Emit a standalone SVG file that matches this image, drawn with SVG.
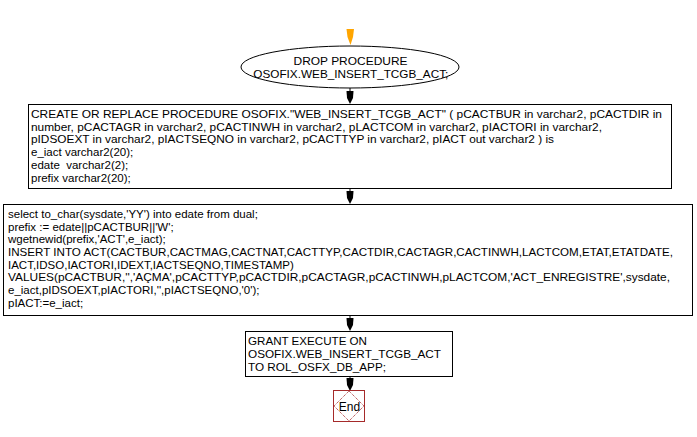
<svg xmlns="http://www.w3.org/2000/svg" width="697" height="437" viewBox="0 0 697 437">
<style>
text { font-family: "Liberation Sans", Arial, sans-serif; font-size: 11.5px; fill: #000; }
.box { fill: #fff; stroke: #000; stroke-width: 1; }
.mid { text-anchor: middle; }
.conn line { stroke: #000; stroke-width: 1; }
.head { fill: #000; }
</style>
<rect width="697" height="437" fill="#fff"/>
<g id="connectors" class="conn">
  <polygon points="346.5,29 354,29 353,37 350.5,45 347.5,37" fill="#ffa500"/>
  <line x1="350" y1="88" x2="350" y2="92"/>
  <polygon class="head" points="346.5,91 353.5,91 353,98 350,104 347,98"/>
  <line x1="350" y1="188" x2="350" y2="192"/>
  <polygon class="head" points="346.5,191 353.5,191 353,198 350,204 347,198"/>
  <line x1="350" y1="315" x2="350" y2="319"/>
  <polygon class="head" points="346.5,318 353.5,318 353,325 350,331 347,325"/>
  <line x1="350" y1="377" x2="350" y2="379"/>
  <polygon class="head" points="346.5,378 353.5,378 353,385 350,391 347,385"/>
</g>
<g id="drop">
  <ellipse cx="350" cy="67" rx="109" ry="21" class="box"/>
  <text x="350.5" y="65" class="mid" textLength="114" lengthAdjust="spacingAndGlyphs">DROP PROCEDURE</text>
  <text x="350.8" y="78" class="mid" textLength="195" lengthAdjust="spacingAndGlyphs">OSOFIX.WEB_INSERT_TCGB_ACT;</text>
</g>
<g id="create">
  <rect x="28.5" y="104.5" width="643" height="84" class="box"/>
  <text x="31" y="118" textLength="631" lengthAdjust="spacingAndGlyphs">CREATE OR REPLACE PROCEDURE OSOFIX."WEB_INSERT_TCGB_ACT" ( pCACTBUR in varchar2, pCACTDIR in</text>
  <text x="31" y="130.7" textLength="571" lengthAdjust="spacingAndGlyphs">number, pCACTAGR in varchar2, pCACTINWH in varchar2, pLACTCOM in varchar2, pIACTORI in varchar2,</text>
  <text x="31" y="143.4" textLength="523" lengthAdjust="spacingAndGlyphs">pIDSOEXT in varchar2, pIACTSEQNO in varchar2, pCACTTYP in varchar2, pIACT out varchar2 ) is</text>
  <text x="31" y="156.1">e_iact varchar2(20);</text>
  <text x="31" y="168.8" style="white-space:pre">edate  varchar2(2);</text>
  <text x="31" y="181.5">prefix varchar2(20);</text>
</g>
<g id="body">
  <rect x="3.5" y="204.5" width="689" height="111" class="box"/>
  <text x="8" y="218">select to_char(sysdate,'YY') into edate from dual;</text>
  <text x="8" y="230.7">prefix := edate||pCACTBUR||'W';</text>
  <text x="8" y="243.3">wgetnewid(prefix,'ACT',e_iact);</text>
  <text x="8" y="256" textLength="665" lengthAdjust="spacingAndGlyphs">INSERT INTO ACT(CACTBUR,CACTMAG,CACTNAT,CACTTYP,CACTDIR,CACTAGR,CACTINWH,LACTCOM,ETAT,ETATDATE,</text>
  <text x="8" y="268.7">IACT,IDSO,IACTORI,IDEXT,IACTSEQNO,TIMESTAMP)</text>
  <text x="8" y="281.4" textLength="662" lengthAdjust="spacingAndGlyphs">VALUES(pCACTBUR,'','AÇMA',pCACTTYP,pCACTDIR,pCACTAGR,pCACTINWH,pLACTCOM,'ACT_ENREGISTRE',sysdate,</text>
  <text x="8" y="294">e_iact,pIDSOEXT,pIACTORI,'',pIACTSEQNO,'0');</text>
  <text x="8" y="306.7">pIACT:=e_iact;</text>
</g>
<g id="grant">
  <rect x="245.5" y="331.5" width="207" height="45" class="box"/>
  <text x="248" y="345" textLength="119" lengthAdjust="spacingAndGlyphs">GRANT EXECUTE ON</text>
  <text x="248" y="357.5" textLength="193" lengthAdjust="spacingAndGlyphs">OSOFIX.WEB_INSERT_TCGB_ACT</text>
  <text x="248" y="370.5" textLength="138" lengthAdjust="spacingAndGlyphs">TO ROL_OSFX_DB_APP;</text>
</g>
<g id="end">
  <rect x="333.5" y="390.5" width="31" height="31" fill="#fff" stroke="#a52a2a" stroke-width="1"/>
  <polygon points="349,391 364,406 349,421 334,406" fill="none" stroke="#a52a2a" stroke-width="1" stroke-dasharray="1,1"/>
  <text x="349.5" y="410.5" class="mid" style="font-size:12px">End</text>
</g>
</svg>
